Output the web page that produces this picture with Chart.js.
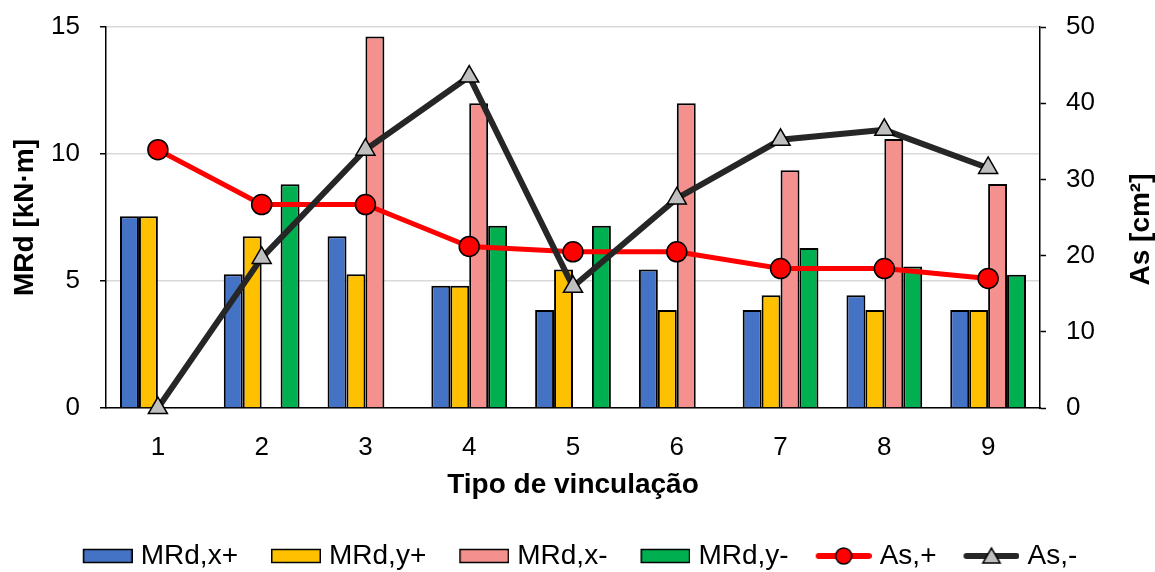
<!DOCTYPE html>
<html>
<head>
<meta charset="utf-8">
<title>MRd e As por tipo de vinculação</title>
<script src="https://cdn.jsdelivr.net/npm/chart.js@4.4.1/dist/chart.umd.min.js"></script>
<style>
  html, body { margin: 0; padding: 0; background: #ffffff; }
  #chart { display: block; }
</style>
</head>
<body>
<canvas id="chart" width="1155" height="572"></canvas>
<script>
// data
const categories = ["1", "2", "3", "4", "5", "6", "7", "8", "9"];
const mrdXPos = [7.55, 5.27, 6.76, 4.81, 3.86, 5.45, 3.86, 4.44, 3.86];
const mrdYPos = [7.55, 6.76, 5.27, 4.81, 5.45, 3.86, 4.44, 3.86, 3.86];
const mrdXNeg = [null, null, 14.63, 12.0, null, 12.0, 9.36, 10.59, 8.82];
const mrdYNeg = [null, 8.81, null, 7.18, 7.18, null, 6.3, 5.57, 5.25];
const asPos = [33.9, 26.7, 26.7, 21.2, 20.5, 20.5, 18.3, 18.3, 17.0];
const asNeg = [0, 19.7, 33.9, 43.5, 15.9, 27.5, 35.2, 36.5, 31.5];

const leftTicks = [0, 5, 10, 15];
const rightTicks = [0, 10, 20, 30, 40, 50];

const xTitle = "Tipo de vinculação";
const leftTitle = "MRd [kN·m]";
const rightTitle = "As [cm²]";

const FONT = "'Liberation Sans', Arial, Helvetica, sans-serif";
Chart.defaults.font.family = FONT;
Chart.defaults.color = "#000000";

// legend icons: transparent lead-in on the left gives the gap between items
const ICON_W = 87;
const ICON_H = 24;
const ICON_MID = 12;

function boxIcon(color) {
  const c = document.createElement("canvas");
  c.width = ICON_W;
  c.height = ICON_H;
  const g = c.getContext("2d");
  g.fillStyle = color;
  g.fillRect(ICON_W - 49.25, ICON_MID - 6.5, 48.5, 13);
  g.strokeStyle = "#000000";
  g.lineWidth = 1.5;
  g.strokeRect(ICON_W - 49.25, ICON_MID - 6.5, 48.5, 13);
  return c;
}

function lineIcon(color, marker, fill) {
  const c = document.createElement("canvas");
  c.width = ICON_W;
  c.height = ICON_H;
  const g = c.getContext("2d");
  const x0 = ICON_W - 56;
  const cx = x0 + 28;
  g.strokeStyle = color;
  g.lineWidth = 6;
  g.lineCap = "round";
  g.beginPath();
  g.moveTo(x0 + 3, ICON_MID);
  g.lineTo(x0 + 53, ICON_MID);
  g.stroke();
  g.fillStyle = fill;
  g.strokeStyle = "#000000";
  g.lineWidth = 1.5;
  g.beginPath();
  if (marker === "circle") {
    g.arc(cx, ICON_MID, 8, 0, Math.PI * 2);
  } else {
    const r = 10;
    for (let k = 0; k < 3; k++) {
      const a = k * 2 * Math.PI / 3;
      const px = cx + Math.sin(a) * r;
      const py = ICON_MID + 2 - Math.cos(a) * r;
      if (k === 0) g.moveTo(px, py); else g.lineTo(px, py);
    }
    g.closePath();
  }
  g.fill();
  g.stroke();
  return c;
}

const icons = [
  boxIcon("#4472C4"),
  boxIcon("#FFC000"),
  boxIcon("#F4908E"),
  boxIcon("#00B050"),
  lineIcon("#FF0000", "circle", "#FF0000"),
  lineIcon("#262626", "triangle", "#BFBFBF"),
];

// right axis title reads bottom-to-top in the reference
const rightTitlePlugin = {
  id: "rightTitle",
  afterDraw(chart) {
    const { ctx, chartArea } = chart;
    ctx.save();
    ctx.translate(chart.width - 14, (chartArea.top + chartArea.bottom) / 2 + 12);
    ctx.rotate(-Math.PI / 2);
    ctx.font = "bold 28px " + FONT;
    ctx.fillStyle = "#000000";
    ctx.textAlign = "center";
    ctx.textBaseline = "middle";
    ctx.fillText(rightTitle, 0, 0);
    ctx.restore();
  },
};

// legend row sits a little lower than chart.js puts it
const legendNudge = {
  id: "legendNudge",
  afterLayout(chart) {
    if (chart.legend) {
      chart.legend.top += 8;
      chart.legend.bottom += 8;
    }
  },
};

function barSet(label, data, color) {
  return {
    type: "bar",
    label: label,
    data: data,
    backgroundColor: color,
    borderColor: "#000000",
    borderWidth: 2,
    yAxisID: "y",
    order: 2,
  };
}

// fixed axis box sizes so the plot area lands where the reference has it
function fixVertical(width) {
  return (scale) => {
    scale.width = width;
    scale.paddingTop = 0;
    scale.paddingBottom = 0;
  };
}

new Chart(document.getElementById("chart"), {
  type: "bar",
  data: {
    labels: categories,
    datasets: [
      barSet("MRd,x+", mrdXPos, "#4472C4"),
      barSet("MRd,y+", mrdYPos, "#FFC000"),
      barSet("MRd,x-", mrdXNeg, "#F4908E"),
      barSet("MRd,y-", mrdYNeg, "#00B050"),
      {
        type: "line",
        label: "As,+",
        data: asPos,
        borderColor: "#FF0000",
        borderWidth: 5,
        tension: 0,
        pointStyle: "circle",
        pointRadius: 10,
        pointBackgroundColor: "#FF0000",
        pointBorderColor: "#000000",
        pointBorderWidth: 1.5,
        yAxisID: "y1",
        order: 1,
        clip: false,
      },
      {
        type: "line",
        label: "As,-",
        data: asNeg,
        borderColor: "#262626",
        borderWidth: 6,
        tension: 0,
        pointStyle: "triangle",
        pointRadius: 11,
        pointBackgroundColor: "#BFBFBF",
        pointBorderColor: "#000000",
        pointBorderWidth: 1.5,
        yAxisID: "y1",
        order: 0,
        clip: false,
      },
    ],
  },
  options: {
    responsive: false,
    animation: false,
    layout: {
      padding: { top: 27, left: 0, right: 26, bottom: 0 },
    },
    datasets: {
      bar: {
        categoryPercentage: 0.73,
        barPercentage: 1.0,
      },
    },
    plugins: {
      tooltip: { enabled: false },
      legend: {
        position: "bottom",
        labels: {
          font: { size: 28 },
          color: "#000000",
          usePointStyle: true,
          pointStyleWidth: ICON_W - 12,
          padding: 2,
          generateLabels: (chart) =>
            chart.data.datasets.map((ds, i) => ({
              text: ds.label,
              pointStyle: icons[i],
              datasetIndex: i,
              hidden: false,
              lineWidth: 0,
              fontColor: "#000000",
            })),
        },
      },
    },
    scales: {
      x: {
        grid: { display: false, drawTicks: false },
        border: { display: true, color: "#000000", width: 1.5 },
        ticks: { font: { size: 26 }, color: "#000000", padding: 24 },
        title: {
          display: true,
          text: xTitle,
          font: { size: 28, weight: "bold" },
          color: "#000000",
          padding: { top: 0, bottom: 30 },
        },
        afterFit: (scale) => {
          scale.height = 124;
        },
      },
      y: {
        position: "left",
        min: 0,
        max: 15,
        afterBuildTicks: (scale) => {
          scale.ticks = leftTicks.map((v) => ({ value: v }));
        },
        grid: {
          color: "#D9D9D9",
          lineWidth: 1.5,
          tickColor: "#000000",
          tickLength: 6,
          tickWidth: 1.5,
        },
        border: { display: true, color: "#000000", width: 1.5 },
        ticks: { font: { size: 26 }, color: "#000000", padding: 20 },
        title: {
          display: true,
          text: leftTitle,
          font: { size: 28, weight: "bold" },
          color: "#000000",
          padding: { top: 8, bottom: 0 },
        },
        afterFit: fixVertical(106),
      },
      y1: {
        position: "right",
        min: 0,
        max: 50,
        afterBuildTicks: (scale) => {
          scale.ticks = rightTicks.map((v) => ({ value: v }));
        },
        grid: {
          drawOnChartArea: false,
          tickColor: "#000000",
          tickLength: 6,
          tickWidth: 1.5,
        },
        border: { display: true, color: "#000000", width: 1.5 },
        ticks: { font: { size: 26 }, color: "#000000", padding: 20 },
        afterFit: fixVertical(89),
      },
    },
  },
  plugins: [rightTitlePlugin, legendNudge],
});
</script>
</body>
</html>
